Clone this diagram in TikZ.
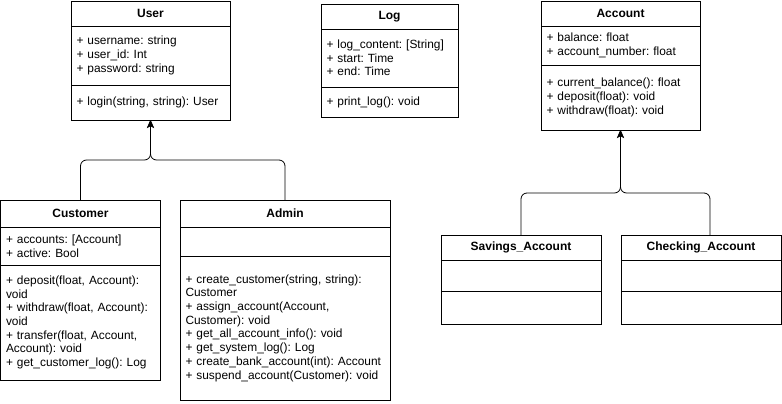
\documentclass[tikz,border=0pt]{standalone}
\usepackage{fontspec}
\setmainfont{Liberation Sans}
\usetikzlibrary {arrows.meta,
                 positioning}
\tikzset{
    base/.style={draw, line width=0.8pt, outer sep=0pt, inner xsep=5.5pt, inner ysep=0pt},
        head/.style={base, font=\fontsize{12}{14}\selectfont\bfseries, align=center,
                     minimum width=#1pt, text width=#1pt-11pt, minimum height=25pt},
        comp/.style={base, align=left,
                     minimum width=#1pt, text width=#1pt-11pt},
        myarrow/.style={-{Stealth[length=8pt, width=7pt, inset=2pt]},
                        line width=0.8pt, rounded corners=6pt},
 }
\frenchspacing
\begin{document}
\begin{tikzpicture}[x=1pt, y=1pt, font=\fontsize{11.9}{13.7}\selectfont]

    \useasboundingbox (0,0) rectangle (782,-404);

    % User
    \node[head=159, anchor=north west] (user) at (71,-1) {User};
    \node[comp=159, minimum height=59pt, below=0pt of user] (user-attr)
        {+ username: string\\+ user\_id: Int\\+ password: string};
    \node[comp=159, minimum height=35pt, below=0pt of user-attr] (user-meth)
        {+ login(string, string): User};

    % Log
    \node[head=137, anchor=north west] (log) at (321,-4) {Log};
    \node[comp=137, minimum height=58pt, below=0pt of log] (log-attr)
        {+ log\_content: [String]\\+ start: Time\\+ end: Time};
    \node[comp=137, minimum height=30pt, below=0pt of log-attr] (log-meth)
        {+ print\_log(): void};

    % Account
    \node[head=159, anchor=north west] (acc) at (541,-1) {Account};
    \node[comp=159, minimum height=39pt, below=0pt of acc] (acc-attr)
        {+ balance: float\\+ account\_number: float};
    \node[comp=159, minimum height=65pt, below=0pt of acc-attr] (acc-meth)
        {+ current\_balance(): float\\+ deposit(float): void\\+ withdraw(float): void};

    % Customer
    \node[head=160, minimum height=27pt, anchor=north west] (cust) at (0.5,-200) {Customer};
    \node[comp=160, minimum height=38pt, below=0pt of cust] (cust-attr)
        {+ accounts: [Account]\\+ active: Bool};
    \node[comp=160, minimum height=115pt, below=0pt of cust-attr] (cust-meth)
        {+ deposit(float, Account):\\void\\+ withdraw(float, Account):\\void\\
         + transfer(float, Account,\\Account): void\\+ get\_customer\_log(): Log};

    % Admin
    \node[head=210, minimum height=27pt, anchor=north west] (admin) at (180,-200) {Admin};
    \node[comp=210, minimum height=29pt, below=0pt of admin] (admin-attr) {};
    \node[comp=210, minimum height=144pt, below=0pt of admin-attr] (admin-meth)
        {+ create\_customer(string, string):\\Customer\\+ assign\_account(Account,\\
         Customer): void\\+ get\_all\_account\_info(): void\\+ get\_system\_log(): Log\\
         + create\_bank\_account(int): Account\\+ suspend\_account(Customer): void};

    % Savings_Account
    \node[head=160, anchor=north west] (sav) at (441,-235) {Savings\_Account};
    \node[comp=160, minimum height=31pt, below=0pt of sav] (sav-attr) {};
    \node[comp=160, minimum height=33pt, below=0pt of sav-attr] (sav-meth) {};

    % Checking_Account
    \node[head=160, anchor=north west] (chk) at (621,-235) {Checking\_Account};
    \node[comp=160, minimum height=31pt, below=0pt of chk] (chk-attr) {};
    \node[comp=160, minimum height=33pt, below=0pt of chk-attr] (chk-meth) {};

    % inheritance
    \draw[myarrow] (cust.north) |- ([yshift=-40pt]user-meth.south) -- (user-meth.south);
    \draw[myarrow] (admin.north) |- ([yshift=-40pt]user-meth.south) -- (user-meth.south);
    \draw[myarrow] (sav.north) |- ([yshift=-63pt]acc-meth.south) -- (acc-meth.south);
    \draw[myarrow] ([xshift=9pt]chk.north) |- ([yshift=-63pt]acc-meth.south) -- (acc-meth.south);

\end{tikzpicture}
\end{document}
